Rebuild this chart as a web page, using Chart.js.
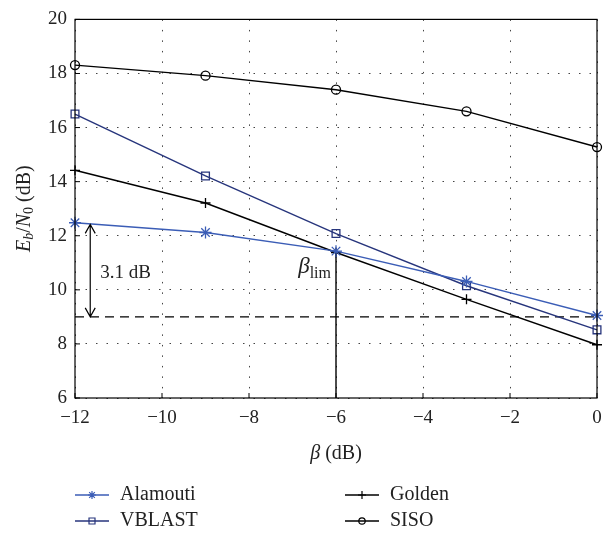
<!DOCTYPE html>
<html>
<head>
<meta charset="utf-8">
<script src="https://cdn.jsdelivr.net/npm/chart.js@4.4.1/dist/chart.umd.min.js"></script>
<style>
  html, body { margin: 0; padding: 0; background: #fff; }
  #wrap { width: 616px; height: 533px; }
</style>
</head>
<body>
<div id="wrap"><canvas id="snrChart" width="616" height="533"></canvas></div>
<script>
// data
const betaDb = [-12, -9, -6, -3, 0];
const alamouti = [12.48, 12.12, 11.43, 10.31, 9.05];
const vblast = [16.5, 14.21, 12.08, 10.15, 8.52];
const golden = [14.42, 13.21, 11.38, 9.65, 7.97];
const siso = [18.31, 17.92, 17.4, 16.6, 15.28];
const xTicks = [-12, -10, -8, -6, -4, -2, 0];
const yTicks = [6, 8, 10, 12, 14, 16, 18, 20];

// annotations
const threshold = 9.0;        // dashed line
const betaLim = -6;           // vertical line at beta_lim
const betaLimTop = golden[2];
const arrowX = -11.65;
const arrowTop = 12.42;
const gapLabel = '3.1 dB';

const serif = '"Liberation Serif", "DejaVu Serif", serif';
const blue = '#3b5db6';
const navy = '#27357c';

const pts = ys => betaDb.map((x, i) => ({ x: x, y: ys[i] }));
const fmt = v => (v < 0 ? '\u2212' + Math.abs(v) : String(v));

const legendItems = [
  { label: 'Alamouti', color: blue, style: 'star', col: 0, row: 0 },
  { label: 'VBLAST', color: navy, style: 'rect', col: 0, row: 1 },
  { label: 'Golden', color: '#000', style: 'cross', col: 1, row: 0 },
  { label: 'SISO', color: '#000', style: 'circle', col: 1, row: 1 }
];

function marker(ctx, style, x, y, r) {
  ctx.beginPath();
  if (style === 'star') {
    for (let k = 0; k < 4; k++) {
      const a = k * Math.PI / 4;
      ctx.moveTo(x - r * Math.cos(a), y - r * Math.sin(a));
      ctx.lineTo(x + r * Math.cos(a), y + r * Math.sin(a));
    }
  } else if (style === 'rect') {
    ctx.rect(x - r * 0.75, y - r * 0.75, r * 1.5, r * 1.5);
  } else if (style === 'cross') {
    ctx.moveTo(x - r, y); ctx.lineTo(x + r, y);
    ctx.moveTo(x, y - r); ctx.lineTo(x, y + r);
  } else {
    ctx.arc(x, y, r * 0.8, 0, Math.PI * 2);
  }
  ctx.stroke();
}

// pieces of text drawn one after another (font, text, y-shift)
function drawRuns(ctx, runs, cx, cy) {
  let total = 0;
  runs.forEach(r => { ctx.font = r.font; total += ctx.measureText(r.text).width; });
  let x = cx - total / 2;
  runs.forEach(r => {
    ctx.font = r.font;
    ctx.fillText(r.text, x, cy + (r.dy || 0));
    x += ctx.measureText(r.text).width;
  });
}

const extras = {
  id: 'extras',
  afterDatasetsDraw(chart) {
    const { ctx, chartArea: a, scales } = chart;
    const xs = scales.x, ys = scales.y;
    ctx.save();

    // box
    ctx.strokeStyle = '#000';
    ctx.lineWidth = 1.2;
    ctx.setLineDash([]);
    ctx.strokeRect(a.left, a.top, a.right - a.left, a.bottom - a.top);

    // inward ticks
    ctx.lineWidth = 1;
    ctx.beginPath();
    yTicks.forEach(v => {
      const py = ys.getPixelForValue(v);
      ctx.moveTo(a.left, py); ctx.lineTo(a.left + 5, py);
    });
    xTicks.forEach(v => {
      const px = xs.getPixelForValue(v);
      ctx.moveTo(px, a.bottom); ctx.lineTo(px, a.bottom - 5);
    });
    ctx.stroke();

    // double arrow for the gap
    const ax = xs.getPixelForValue(arrowX);
    const y1 = ys.getPixelForValue(arrowTop);
    const y2 = ys.getPixelForValue(threshold);
    ctx.lineWidth = 1.2;
    ctx.beginPath();
    ctx.moveTo(ax, y1); ctx.lineTo(ax, y2);
    ctx.moveTo(ax - 5, y1 + 9); ctx.lineTo(ax, y1); ctx.lineTo(ax + 5, y1 + 9);
    ctx.moveTo(ax - 5, y2 - 9); ctx.lineTo(ax, y2); ctx.lineTo(ax + 5, y2 - 9);
    ctx.stroke();

    ctx.fillStyle = '#222';
    ctx.textBaseline = 'middle';
    ctx.textAlign = 'left';
    ctx.font = '19px ' + serif;
    ctx.fillText(gapLabel, ax + 10, (y1 + y2) / 2 + 2);

    // beta_lim label
    const bx = xs.getPixelForValue(betaLim);
    const by = ys.getPixelForValue(betaLimTop);
    ctx.textBaseline = 'alphabetic';
    ctx.font = 'italic 23px ' + serif;
    const wB = ctx.measureText('\u03b2').width;
    ctx.font = '16px ' + serif;
    const wL = ctx.measureText('lim').width;
    const startX = bx - 5 - wB - wL;
    ctx.font = 'italic 23px ' + serif;
    ctx.fillText('\u03b2', startX, by + 20);
    ctx.font = '16px ' + serif;
    ctx.fillText('lim', startX + wB, by + 25);

    // x axis title
    ctx.textAlign = 'left';
    ctx.textBaseline = 'middle';
    drawRuns(ctx, [
      { font: 'italic 20px ' + serif, text: '\u03b2' },
      { font: '20px ' + serif, text: ' (dB)' }
    ], (a.left + a.right) / 2, 454);

    // y axis title
    ctx.save();
    ctx.translate(25, (a.top + a.bottom) / 2);
    ctx.rotate(-Math.PI / 2);
    drawRuns(ctx, [
      { font: 'italic 20px ' + serif, text: 'E' },
      { font: 'italic 14px ' + serif, text: 'b', dy: 4 },
      { font: '20px ' + serif, text: '/' },
      { font: 'italic 20px ' + serif, text: 'N' },
      { font: '14px ' + serif, text: '0', dy: 4 },
      { font: '20px ' + serif, text: ' (dB)' }
    ], 0, 0);
    ctx.restore();

    // legend
    ctx.font = '20px ' + serif;
    legendItems.forEach(it => {
      const x0 = it.col === 0 ? 75 : 345;
      const yy = it.row === 0 ? 495 : 521;
      ctx.strokeStyle = it.color;
      ctx.lineWidth = 1.3;
      ctx.beginPath();
      ctx.moveTo(x0, yy); ctx.lineTo(x0 + 34, yy);
      ctx.stroke();
      ctx.lineWidth = 1.2;
      marker(ctx, it.style, x0 + 17, yy, 4);
      ctx.fillStyle = '#222';
      ctx.fillText(it.label, x0 + 45, yy);
    });

    ctx.restore();
  }
};

const line = (label, ys, color, style, radius) => ({
  label: label,
  data: pts(ys),
  borderColor: color,
  backgroundColor: 'rgba(0,0,0,0)',
  borderWidth: 1.4,
  pointStyle: style,
  pointRadius: radius,
  pointBorderColor: color,
  pointBackgroundColor: 'rgba(0,0,0,0)',
  pointBorderWidth: 1.3,
  tension: 0,
  clip: false
});

new Chart(document.getElementById('snrChart'), {
  type: 'line',
  data: {
    datasets: [
      line('Alamouti', alamouti, blue, 'star', 6),
      line('VBLAST', vblast, navy, 'rect', 5.5),
      line('Golden', golden, '#000', 'cross', 5),
      line('SISO', siso, '#000', 'circle', 4.5),
      {
        label: 'threshold',
        data: [{ x: betaDb[0], y: threshold }, { x: betaDb[betaDb.length - 1], y: threshold }],
        borderColor: '#000',
        borderWidth: 1.3,
        borderDash: [9, 6],
        pointRadius: 0
      },
      {
        label: 'beta_lim',
        data: [{ x: betaLim, y: betaLimTop }, { x: betaLim, y: yTicks[0] }],
        borderColor: '#000',
        borderWidth: 1.4,
        pointRadius: 0
      }
    ]
  },
  options: {
    responsive: false,
    animation: false,
    layout: { padding: { top: 11, right: 19, left: 0, bottom: 0 } },
    plugins: { legend: { display: false }, tooltip: { enabled: false } },
    scales: {
      x: {
        type: 'linear',
        min: -12, max: 0,
        afterFit: s => { s.height = 135; },
        afterBuildTicks: s => { s.ticks = xTicks.map(v => ({ value: v })); },
        ticks: { callback: fmt, color: '#222', padding: 9, font: { family: serif, size: 19 }, maxRotation: 0 },
        grid: { color: '#444', lineWidth: 1, drawTicks: false },
        border: { display: false, dash: [1.5, 9] }
      },
      y: {
        type: 'linear',
        min: 6, max: 20,
        afterFit: s => { s.width = 75; },
        afterBuildTicks: s => { s.ticks = yTicks.map(v => ({ value: v })); },
        ticks: { callback: fmt, color: '#222', padding: 8, font: { family: serif, size: 19 } },
        grid: { color: '#444', lineWidth: 1, drawTicks: false },
        border: { display: false, dash: [1.5, 9] }
      }
    }
  },
  plugins: [extras]
});
</script>
</body>
</html>
